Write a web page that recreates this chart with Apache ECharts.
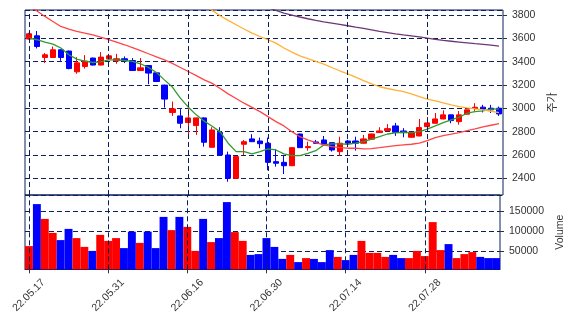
<!DOCTYPE html>
<html>
<head>
<meta charset="utf-8">
<script src="https://cdn.jsdelivr.net/npm/echarts@6/dist/echarts.min.js"></script>
<style>
  html, body { margin: 0; padding: 0; background: #fff; }
  #main { width: 574px; height: 326px; }
</style>
</head>
<body>
<div id="main"></div>
<script type="text/javascript">
    // trading days (22.05.17 ~ 22.08.10)
    var dates = [
        '22.05.17', '22.05.18', '22.05.19', '22.05.20', '22.05.23', '22.05.24', '22.05.25', '22.05.26', '22.05.27', '22.05.30',
        '22.05.31', '22.06.02', '22.06.03', '22.06.07', '22.06.08', '22.06.09', '22.06.10', '22.06.13', '22.06.14', '22.06.15',
        '22.06.16', '22.06.17', '22.06.20', '22.06.21', '22.06.22', '22.06.23', '22.06.24', '22.06.27', '22.06.28', '22.06.29',
        '22.06.30', '22.07.01', '22.07.04', '22.07.05', '22.07.06', '22.07.07', '22.07.08', '22.07.11', '22.07.12', '22.07.13',
        '22.07.14', '22.07.15', '22.07.18', '22.07.19', '22.07.20', '22.07.21', '22.07.22', '22.07.25', '22.07.26', '22.07.27',
        '22.07.28', '22.07.29', '22.08.01', '22.08.02', '22.08.03', '22.08.04', '22.08.05', '22.08.08', '22.08.09', '22.08.10'
    ];
    var opens = [
        3594, 3622, 3436, 3436, 3502, 3491, 3313, 3359, 3431, 3371,
        3425, 3407, 3425, 3410, 3324, 3367, 3304, 3199, 2964, 2935,
        2878, 2852, 2918, 2666, 2792, 2600, 2400, 2692, 2738, 2720,
        2701, 2543, 2537, 2508, 2780, 2663, 2712, 2729, 2706, 2629,
        2720, 2720, 2701, 2735, 2792, 2809, 2849, 2806, 2752, 2763,
        2843, 2872, 2909, 2944, 2886, 2950, 3000, 3010, 3001, 3001
    ];
    var closes = [
        3639, 3530, 3459, 3502, 3436, 3341, 3390, 3405, 3371, 3439,
        3450, 3425, 3407, 3324, 3347, 3302, 3230, 3079, 2995, 2872,
        2918, 2918, 2709, 2815, 2600, 2400, 2586, 2714, 2714, 2697,
        2537, 2529, 2508, 2663, 2663, 2672, 2700, 2686, 2643, 2701,
        2701, 2701, 2738, 2780, 2806, 2826, 2795, 2792, 2792, 2835,
        2875, 2909, 2944, 2895, 2944, 2987, 3009, 2993, 2987, 2952
    ];
    var lows = [
        3588, 3513, 3388, 3433, 3407, 3335, 3296, 3341, 3368, 3368,
        3416, 3382, 3388, 3320, 3320, 3207, 3225, 3006, 2935, 2829,
        2772, 2772, 2671, 2663, 2597, 2371, 2398, 2600, 2711, 2658,
        2469, 2500, 2437, 2505, 2660, 2637, 2697, 2683, 2629, 2594,
        2698, 2637, 2698, 2732, 2789, 2806, 2764, 2752, 2749, 2760,
        2840, 2869, 2906, 2872, 2860, 2947, 2978, 2965, 2960, 2935
    ];
    var highs = [
        3648, 3663, 3474, 3530, 3505, 3495, 3439, 3456, 3435, 3482,
        3467, 3467, 3445, 3431, 3431, 3370, 3310, 3203, 3058, 2993,
        3058, 2920, 2922, 2838, 2838, 2629, 2590, 2729, 2778, 2749,
        2749, 2652, 2600, 2666, 2783, 2714, 2729, 2763, 2709, 2757,
        2729, 2757, 2772, 2783, 2838, 2864, 2875, 2830, 2795, 2909,
        2926, 2960, 2983, 2947, 2977, 2990, 3044, 3030, 3030, 3015
    ];
    var volumes = [
        63000, 168000, 131000, 96000, 78000, 106000, 83000, 61000, 51000, 91000,
        76000, 83000, 58000, 99000, 71000, 99000, 58000, 136000, 103000, 136000,
        111000, 51000, 131000, 73000, 83000, 173000, 98000, 76000, 41000, 43000,
        83000, 61000, 31000, 41000, 23000, 33000, 31000, 23000, 53000, 36000,
        28000, 41000, 76000, 46000, 46000, 36000, 41000, 33000, 33000, 51000,
        38000, 123000, 53000, 68000, 33000, 43000, 48000, 36000, 33000, 33000
    ];
    // moving averages (null = outside the panel)
    var ma5 = [
        3602, 3588, 3568, 3551, 3517, 3459, 3422, 3405, 3393, 3399,
        3416, 3416, 3410, 3402, 3382, 3350, 3307, 3244, 3182, 3087,
        3010, 2944, 2890, 2846, 2798, 2701, 2629, 2629, 2609, 2629,
        2652, 2643, 2609, 2594, 2594, 2614, 2637, 2686, 2695, 2695,
        2692, 2701, 2714, 2735, 2757, 2780, 2790, 2795, 2792, 2800,
        2821, 2849, 2878, 2901, 2924, 2958, 2972, 2978, 2993, 2995
    ];
    var ma20 = [
        3875, 3835, 3788, 3745, 3702, 3680, 3659, 3645, 3630, 3611,
        3590, 3568, 3545, 3520, 3494, 3468, 3442, 3416, 3385, 3350,
        3316, 3280, 3244, 3214, 3170, 3124, 3084, 3044, 3008, 2972,
        2929, 2886, 2849, 2800, 2757, 2729, 2706, 2686, 2672, 2663,
        2658, 2658, 2652, 2655, 2663, 2672, 2680, 2686, 2692, 2701,
        2723, 2749, 2766, 2778, 2792, 2809, 2823, 2841, 2855, 2869
    ];
    var ma60 = [
        null, null, null, null, null, null, null, null, null, null,
        null, null, null, null, null, null, null, null, null, null,
        null, null, 3885, 3840, 3794, 3754, 3717, 3680, 3645, 3616,
        3588, 3559, 3517, 3482, 3450, 3427, 3402, 3379, 3350, 3322,
        3296, 3267, 3238, 3210, 3185, 3170, 3156, 3144, 3124, 3101,
        3079, 3064, 3047, 3030, 3015, 3004, 2995, 2987, 2975, 2964
    ];
    var ma120 = [
        null, null, null, null, null, null, null, null, null, null,
        null, null, null, null, null, null, null, null, null, null,
        null, null, null, null, null, null, null, null, null, null,
        3862, 3840, 3817, 3800, 3783, 3768, 3754, 3742, 3731, 3720,
        3708, 3696, 3685, 3672, 3659, 3649, 3639, 3630, 3622, 3612,
        3602, 3592, 3582, 3575, 3568, 3561, 3554, 3548, 3542, 3534
    ];
    var tickDates = ['22.05.17', '22.05.31', '22.06.16', '22.06.30', '22.07.14', '22.07.28'];

    var UP = '#ff0000', DOWN = '#0000ff', NAVY = '#0b1f5c';

    var kdata = [], vdata = [];
    for (var i = 0; i < dates.length; i++) {
        kdata.push([opens[i], closes[i], lows[i], highs[i]]);
        vdata.push({
            value: volumes[i],
            itemStyle: { color: closes[i] >= opens[i] ? UP : DOWN }
        });
    }

    // vertical dashed grid lines at the date ticks, on empty helper series kept under the marks
    var vLines = {
        silent: true, symbol: 'none', animation: false,
        label: { show: false },
        lineStyle: { color: NAVY, type: [5, 3], width: 1 },
        data: tickDates.map(function (d) { return { xAxis: d }; })
    };
    var ySplit = { show: true, lineStyle: { color: NAVY, type: [5, 3], width: 1 } };
    var labelFont = { color: '#333', fontSize: 10.5, fontFamily: 'Liberation Sans, Arial, sans-serif' };
    var plain = function (v) { return String(v); };
    var onTick = function (idx) { return tickDates.indexOf(dates[idx]) >= 0; };

    var myChart = echarts.init(document.getElementById('main'));
    myChart.setOption({
        animation: false,
        grid: [
            { left: 25, top: 10, width: 478, height: 185, show: true, borderColor: NAVY, borderWidth: 1 },
            { left: 25, top: 195, width: 478, height: 74.3, show: true, borderColor: NAVY, borderWidth: 1 }
        ],
        xAxis: [
            {
                type: 'category', gridIndex: 0, data: dates, boundaryGap: true,
                axisLine: { show: false }, axisLabel: { show: false },
                axisTick: { show: false }, splitLine: { show: false }
            },
            {
                type: 'category', gridIndex: 1, data: dates, boundaryGap: true,
                axisLine: { show: true, lineStyle: { color: NAVY } },
                axisTick: { show: true, interval: onTick, alignWithLabel: true, length: 4, lineStyle: { color: '#333' } },
                axisLabel: Object.assign({ interval: onTick, rotate: 45, align: 'center', verticalAlign: 'middle', margin: 26 }, labelFont),
                splitLine: { show: false }
            }
        ],
        yAxis: [
            {
                type: 'value', gridIndex: 0, position: 'right', min: 2257, max: 3843, splitNumber: 8,
                axisLine: { show: false },
                axisTick: { show: true, length: 4, lineStyle: { color: '#333' } },
                axisLabel: Object.assign({ showMinLabel: false, showMaxLabel: false, margin: 9, formatter: plain }, labelFont),
                splitLine: ySplit,
                name: '주가', nameLocation: 'middle', nameRotate: 90, nameGap: 40,
                nameTextStyle: { color: '#333', fontSize: 11, fontFamily: 'Noto Sans CJK KR' }
            },
            {
                type: 'value', gridIndex: 1, position: 'right', min: 5000, max: 190750, splitNumber: 4,
                axisLine: { show: false },
                axisTick: { show: true, length: 4, lineStyle: { color: '#333' } },
                axisLabel: Object.assign({ showMinLabel: false, showMaxLabel: false, margin: 9, formatter: plain }, labelFont),
                splitLine: ySplit,
                name: 'Volume', nameLocation: 'middle', nameRotate: 90, nameGap: 55,
                nameTextStyle: { color: '#333', fontSize: 10.5, fontFamily: 'Liberation Sans, Arial, sans-serif' }
            }
        ],
        series: [
            { type: 'line', xAxisIndex: 0, yAxisIndex: 0, data: [], z: 0, markLine: vLines },
            { type: 'line', xAxisIndex: 1, yAxisIndex: 1, data: [], z: 0, markLine: vLines },
            {
                type: 'candlestick', xAxisIndex: 0, yAxisIndex: 0, data: kdata, barWidth: '72%', z: 3,
                itemStyle: { color: UP, color0: DOWN, borderColor: UP, borderColor0: DOWN, borderWidth: 1 }
            },
            { type: 'line', xAxisIndex: 0, yAxisIndex: 0, data: ma5, showSymbol: false, z: 4,
              lineStyle: { color: '#2f9a2f', width: 1.3 } },
            { type: 'line', xAxisIndex: 0, yAxisIndex: 0, data: ma20, showSymbol: false, z: 4,
              lineStyle: { color: '#ff4545', width: 1.3 } },
            { type: 'line', xAxisIndex: 0, yAxisIndex: 0, data: ma60, showSymbol: false, z: 4,
              lineStyle: { color: '#ffb133', width: 1.3 } },
            { type: 'line', xAxisIndex: 0, yAxisIndex: 0, data: ma120, showSymbol: false, z: 4,
              lineStyle: { color: '#6e3677', width: 1.3 } },
            {
                type: 'bar', xAxisIndex: 1, yAxisIndex: 1, data: vdata,
                barWidth: '100%', barCategoryGap: 0, z: 3
            }
        ]
    });
</script>
</body>
</html>
